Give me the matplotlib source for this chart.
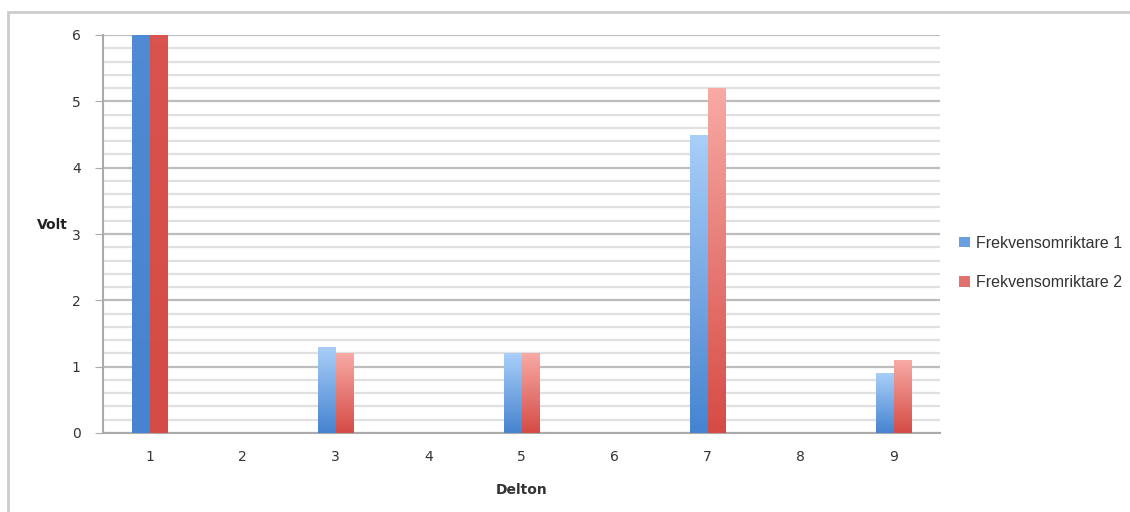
import matplotlib.pyplot as plt
import numpy as np
from matplotlib.colors import LinearSegmentedColormap
from matplotlib.patches import Rectangle

delton = [1, 2, 3, 4, 5, 6, 7, 8, 9]
frek1 = [60.0, 0, 1.3, 0, 1.2, 0, 4.5, 0, 0.9]
frek2 = [60.0, 0, 1.2, 0, 1.2, 0, 5.2, 0, 1.1]
series_names = ['Frekvensomriktare 1', 'Frekvensomriktare 2']

blue_cmap = LinearSegmentedColormap.from_list('blue', ['#4683d0', '#a9cff9'])
red_cmap = LinearSegmentedColormap.from_list('red', ['#d54b45', '#f8aaa5'])

fig = plt.figure(figsize=(11.3, 5.12), dpi=100)
ax = fig.add_axes([103 / 1130, 1 - 433 / 512, 837 / 1130, 398 / 512])

ymax = 6
width = 0.19
grad = np.linspace(0, 1, 256).reshape(-1, 1)


def gradient_bar(x, h, cmap):
    if h <= 0:
        return
    top = min(h, ymax)
    rect = Rectangle((x, 0), width, top, facecolor='none', edgecolor='none')
    ax.add_patch(rect)
    # gradient spans the full value, so clipped bars show only the dark base
    im = ax.imshow(grad, cmap=cmap, aspect='auto', origin='lower',
                   extent=(x, x + width, 0, h), zorder=3)
    im.set_clip_path(rect)


for d, v1, v2 in zip(delton, frek1, frek2):
    gradient_bar(d - width, v1, blue_cmap)
    gradient_bar(d, v2, red_cmap)

ax.set_xlim(0.5, 9.5)
ax.set_ylim(0, ymax)
ax.set_xticks(delton)
ax.set_yticks(range(0, 7))
ax.set_yticks(np.arange(0, 6.01, 0.2), minor=True)
ax.tick_params(axis='x', length=0, pad=12, labelsize=10, colors='#333333')
ax.tick_params(axis='y', which='major', length=6, color='#aaaaaa',
               labelsize=10, colors='#333333', pad=10)
ax.tick_params(axis='y', which='minor', length=0)
ax.grid(axis='y', which='major', color='#bdbdbd', linewidth=1.6, zorder=1)
ax.grid(axis='y', which='minor', color='#e0e0e0', linewidth=1.6, zorder=0)
ax.set_axisbelow(True)

for side in ['top', 'right']:
    ax.spines[side].set_visible(False)
ax.spines['left'].set_color('#aaaaaa')
ax.spines['left'].set_linewidth(1.5)
ax.spines['bottom'].set_color('#aaaaaa')
ax.spines['bottom'].set_linewidth(1.5)

ax.set_xlabel('Delton', fontweight='bold', fontsize=10, color='#333333', labelpad=14)
ax.set_ylabel('Volt', fontweight='bold', fontsize=10, color='#222222',
              rotation=0, labelpad=0)
ax.yaxis.set_label_coords(-0.06, 0.505)

handles = [Rectangle((0, 0), 1, 1, facecolor='#6a9fdf'),
           Rectangle((0, 0), 1, 1, facecolor='#e0716c')]
fig.legend(handles, series_names, loc='center left',
           bbox_to_anchor=(945 / 1130, 1 - 263 / 512), frameon=False,
           prop={'family': 'Liberation Sans', 'size': 11.5},
           handlelength=0.65, handleheight=0.65,
           handletextpad=0.4, labelspacing=1.55, labelcolor='#333333')

# frame runs off the right and bottom edges of the image
fig.patches.append(Rectangle((8 / 1130, -0.05), 1.0, 1 - 12 / 512 + 0.05,
                             transform=fig.transFigure, fill=False,
                             edgecolor='#cccccc', linewidth=2))

fig.savefig('out.png', dpi=100)
